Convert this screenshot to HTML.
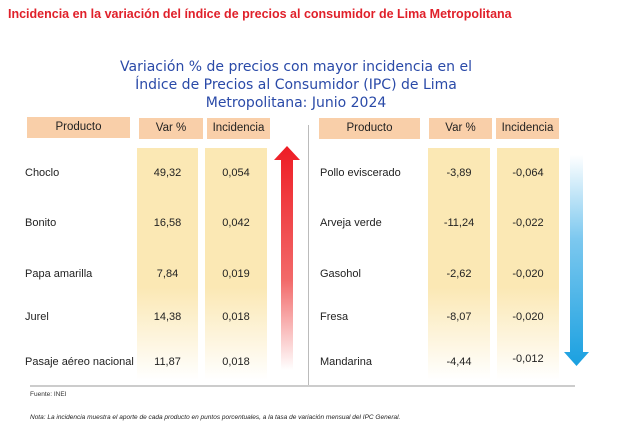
<!DOCTYPE html>
<html><head><meta charset="utf-8"><style>
body{margin:0;width:620px;height:432px;background:#fff;position:relative;overflow:hidden;font-family:"Liberation Sans",sans-serif}
.a{position:absolute}
.hd{position:absolute;background:#f9cfa9;font-size:11.5px;text-align:center;line-height:21px;color:#222}
.col{position:absolute;background:linear-gradient(#fbe8b4,#fbe8b4 60%,#fff)}
.t{position:absolute;font-size:11px;color:#222;white-space:nowrap}
</style></head><body>
<div class="a" style="left:8px;top:7px;font-size:12.5px;font-weight:bold;color:#e0202a">Incidencia en la variación del índice de precios al consumidor de Lima Metropolitana</div>
<div class="a" style="left:46px;top:58px;width:500px;text-align:center;font-family:'DejaVu Sans',sans-serif;font-size:14px;line-height:18px;color:#2a4aa8;white-space:nowrap">Variación % de precios con mayor incidencia en el<br>Índice de Precios al Consumidor (IPC) de Lima<br>Metropolitana: Junio 2024</div>

<div class="hd" style="left:27px;top:117px;width:103px">Producto</div>
<div class="hd" style="left:139px;top:118px;width:64px">Var %</div>
<div class="hd" style="left:207px;top:118px;width:63px">Incidencia</div>
<div class="col" style="left:137px;top:148px;width:61px;height:232px"></div>
<div class="col" style="left:205px;top:148px;width:62px;height:232px"></div>

<div class="hd" style="left:319px;top:118px;width:101px">Producto</div>
<div class="hd" style="left:429px;top:118px;width:63px">Var %</div>
<div class="hd" style="left:496px;top:118px;width:63px">Incidencia</div>
<div class="col" style="left:428px;top:148px;width:62px;height:232px"></div>
<div class="col" style="left:497px;top:148px;width:62px;height:232px"></div>

<div class="a" style="left:308px;top:125px;width:1px;height:262px;background:#bbb"></div>
<div class="a" style="left:30px;top:385px;width:545px;height:2px;background:#ccc"></div>

<svg class="a" style="left:270px;top:140px" width="35" height="240">
<defs><linearGradient id="rg" x1="0" y1="0" x2="0" y2="1"><stop offset="0" stop-color="#ee1c24"/><stop offset="0.6" stop-color="#f26a6a"/><stop offset="1" stop-color="#fff"/></linearGradient></defs>
<polygon points="17,6 30,20 23,20 23,230 11,230 11,20 4,20" fill="url(#rg)"/></svg>
<svg class="a" style="left:560px;top:150px" width="35" height="220">
<defs><linearGradient id="bg" x1="0" y1="0" x2="0" y2="1"><stop offset="0" stop-color="#fff"/><stop offset="0.4" stop-color="#7cc8ef"/><stop offset="1" stop-color="#1aa0e0"/></linearGradient></defs>
<polygon points="10,5 23,5 23,202 29,202 16.5,216 4,202 10,202" fill="url(#bg)"/></svg>

<div class="a" style="left:30px;top:391px;font-size:6.5px;color:#333">Fuente: INEI</div>
<div class="a" style="left:30px;top:414px;font-size:6.5px;font-style:italic;color:#222">Nota: La incidencia muestra el aporte de cada producto en puntos porcentuales, a la tasa de variación mensual del IPC General.</div>

<div id="rows"></div>
<script>
const upProducts=["Choclo","Bonito","Papa amarilla","Jurel","Pasaje aéreo nacional"];
const upVar=["49,32","16,58","7,84","14,38","11,87"];
const upInc=["0,054","0,042","0,019","0,018","0,018"];
const downProducts=["Pollo eviscerado","Arveja verde","Gasohol","Fresa","Mandarina"];
const downVar=["-3,89","-11,24","-2,62","-8,07","-4,44"];
const downInc=["-0,064","-0,022","-0,020","-0,020","-0,012"];
const rowY=[167,217,268,311,356];
const root=document.getElementById('rows');
function cell(txt,x,y,w,align,name){
  const d=document.createElement('div');
  d.className='t';
  d.style.left=x+'px';d.style.top=y+'px';d.style.width=w+'px';d.style.textAlign=align;
  d.textContent=txt;
  
  
  root.appendChild(d);
}
upProducts.forEach((p,i)=>{
  cell(p,25,rowY[i],110,'left','up-product');
  cell(upVar[i],137,rowY[i],61,'center','up-var');
  cell(upInc[i],205,rowY[i],62,'center','up-incidencia');
});
downProducts.forEach((p,i)=>{
  cell(p,320,rowY[i],105,'left','down-product');
  cell(downVar[i],428,rowY[i],62,'center','down-var');
  cell(downInc[i],497,rowY[i]-(i==4?3:0),62,'center','down-incidencia');
});
</script>
</body></html>
